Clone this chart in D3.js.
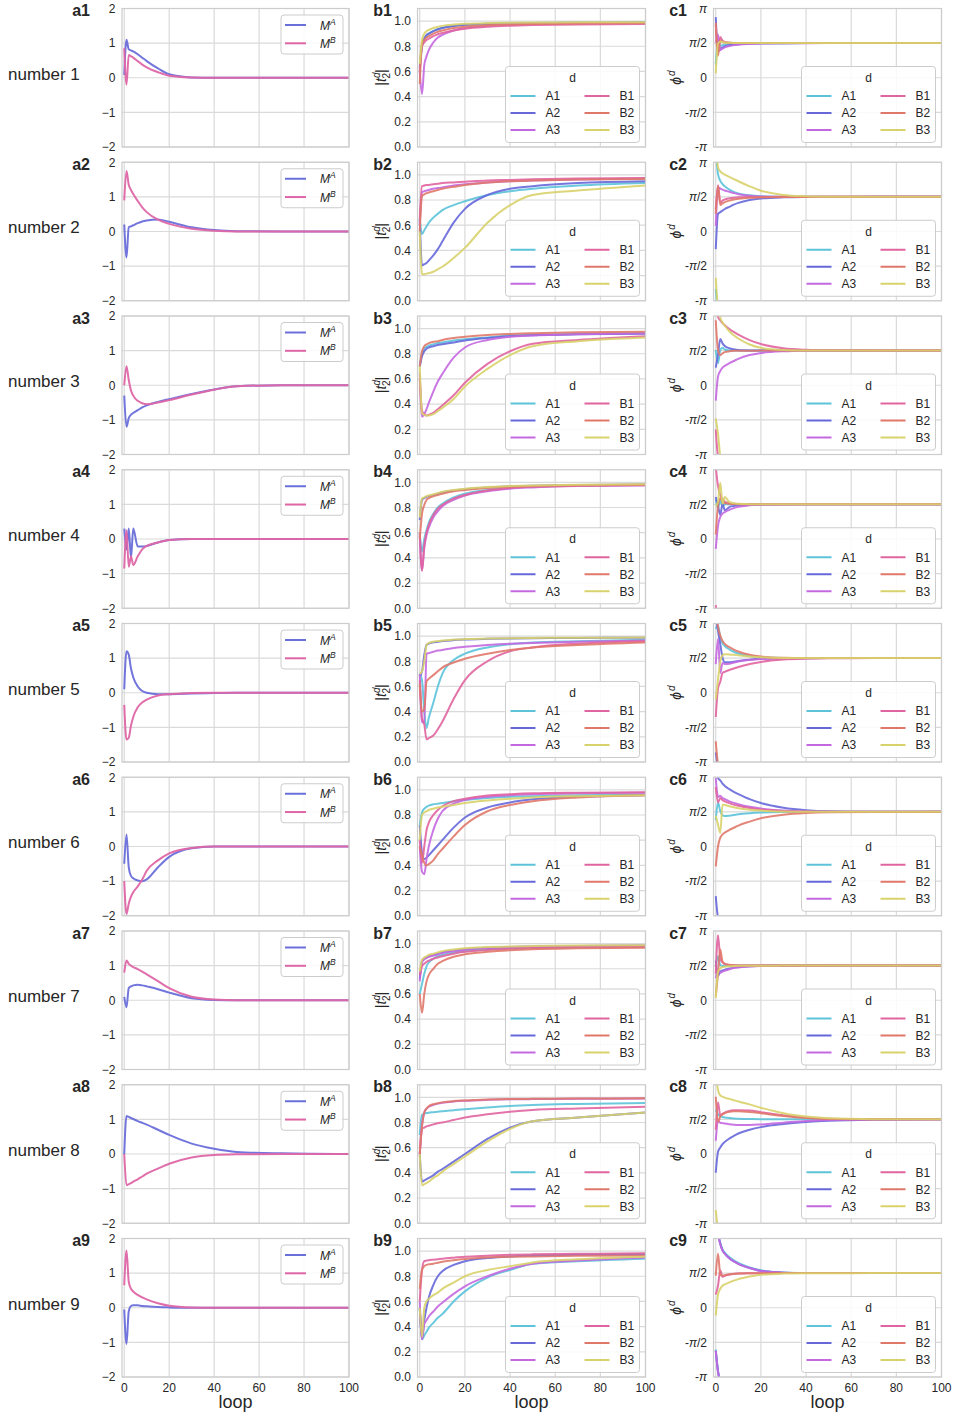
<!DOCTYPE html>
<html><head><meta charset="utf-8">
<script src="https://cdn.jsdelivr.net/npm/d3@7"></script>
<style>
body{margin:0;background:#fff;}
svg text{font-family:"Liberation Sans",Arial,"DejaVu Sans",sans-serif;fill:#262626;}
</style>
</head><body>
<svg id="chart" width="954" height="1418"></svg>
<script>
const PI = Math.PI;
// sample positions (loop index) shared by every series
const loops = [0, 1, 2, 3, 4, 6, 8, 10, 15, 20, 30, 40, 50, 70, 100];

const codes = ["A1", "A2", "A3", "B1", "B2", "B3"];
const codeColors = ["#5cc3d9", "#6668da", "#c468e0", "#e0649f", "#e0786a", "#d8d26a"];
const magNames = ["A", "B"];
const magColors = ["#6a6fda", "#de66a6"];
const rowNames = ["number 1","number 2","number 3","number 4","number 5","number 6","number 7","number 8","number 9"];

const xTicks = [0, 20, 40, 60, 80, 100];
const yTicksMag = [-2, -1, 0, 1, 2];
const yTickMagLabels = ["\u22122", "\u22121", "0", "1", "2"];
const yTicksT = [0, 0.2, 0.4, 0.6, 0.8, 1.0];
const yTickTLabels = ["0.0", "0.2", "0.4", "0.6", "0.8", "1.0"];
const yTicksPhi = [-PI, -PI/2, 0, PI/2, PI];
const yTickPhiLabels = [["-", "\u03c0", ""], ["-", "\u03c0", "/2"], ["0", "", ""], ["", "\u03c0", "/2"], ["", "\u03c0", ""]];

// ---- column a : M^A, M^B ----
const mag1 = { A: [0.08, 1.1, 0.82, 0.79, 0.76, 0.68, 0.58, 0.48, 0.27, 0.1, 0.01, 0, 0, 0, 0],
               B: [0.85, -0.2, 0.66, 0.62, 0.58, 0.48, 0.38, 0.3, 0.16, 0.06, 0.01, 0, 0, 0, 0] };
const mag2 = { A: [0.2, -0.75, 0.12, 0.15, 0.18, 0.24, 0.29, 0.32, 0.35, 0.28, 0.12, 0.04, 0.01, 0, 0],
               B: [0.9, 1.75, 1.35, 1.2, 1.08, 0.88, 0.7, 0.56, 0.34, 0.22, 0.08, 0.02, 0, 0, 0] };
const mag3 = { A: [-0.3, -1.2, -0.95, -0.85, -0.8, -0.72, -0.64, -0.58, -0.48, -0.4, -0.25, -0.12, -0.03, 0, 0],
               B: [0.0, 0.55, 0.15, -0.15, -0.3, -0.45, -0.52, -0.55, -0.5, -0.43, -0.27, -0.13, -0.03, 0, 0] };
const mag4 = { A: [0.3, -0.3, 0.3, -0.55, 0.3, -0.22, -0.22, -0.2, -0.1, -0.03, 0, 0, 0, 0, 0],
               B: [-0.85, 0.25, -0.8, -0.5, -0.75, -0.5, -0.3, -0.2, -0.1, -0.03, 0, 0, 0, 0, 0] };
const mag5 = { A: [0.1, 1.2, 1.1, 0.7, 0.45, 0.18, 0.05, 0.0, -0.04, -0.04, -0.02, -0.01, 0, 0, 0],
               B: [-0.35, -1.35, -1.3, -0.95, -0.7, -0.42, -0.28, -0.2, -0.08, -0.04, -0.01, 0, 0, 0, 0] };
const mag6 = { A: [-0.5, 0.35, -0.6, -0.85, -0.92, -0.98, -1.0, -0.95, -0.6, -0.3, -0.05, 0, 0, 0, 0],
               B: [-1.0, -1.95, -1.65, -1.45, -1.32, -1.15, -0.95, -0.7, -0.4, -0.2, -0.04, 0, 0, 0, 0] };
const mag7 = { A: [0.1, -0.2, 0.35, 0.4, 0.43, 0.45, 0.43, 0.4, 0.32, 0.22, 0.06, 0.01, 0, 0, 0],
               B: [0.8, 1.15, 1.05, 1.0, 0.96, 0.9, 0.83, 0.75, 0.55, 0.35, 0.1, 0.02, 0, 0, 0] };
const mag8 = { A: [0.0, 1.1, 1.07, 1.04, 1.01, 0.95, 0.9, 0.85, 0.7, 0.55, 0.3, 0.15, 0.06, 0.02, 0],
               B: [0.0, -0.9, -0.87, -0.84, -0.8, -0.73, -0.65, -0.57, -0.42, -0.28, -0.1, -0.03, -0.01, 0, 0] };
const mag9 = { A: [-0.05, -1.05, -0.1, 0.05, 0.07, 0.07, 0.05, 0.04, 0.02, 0.01, 0, 0, 0, 0, 0],
               B: [0.65, 1.65, 0.75, 0.55, 0.47, 0.37, 0.3, 0.24, 0.13, 0.06, 0.01, 0, 0, 0, 0] };

// ---- column b : |t2^d| ----
const t2_1 = {
  A1: [0.62, 0.8, 0.86, 0.88, 0.9, 0.92, 0.935, 0.945, 0.96, 0.97, 0.978, 0.982, 0.985, 0.987, 0.988],
  A2: [0.63, 0.81, 0.86, 0.89, 0.9, 0.92, 0.935, 0.945, 0.96, 0.97, 0.978, 0.982, 0.985, 0.987, 0.988],
  A3: [0.6, 0.42, 0.65, 0.72, 0.77, 0.83, 0.87, 0.89, 0.925, 0.945, 0.962, 0.972, 0.977, 0.982, 0.985],
  B1: [0.6, 0.8, 0.83, 0.85, 0.86, 0.88, 0.895, 0.905, 0.925, 0.94, 0.955, 0.963, 0.968, 0.973, 0.976],
  B2: [0.5, 0.82, 0.85, 0.87, 0.88, 0.9, 0.915, 0.925, 0.945, 0.955, 0.967, 0.973, 0.977, 0.981, 0.984],
  B3: [0.66, 0.85, 0.9, 0.92, 0.93, 0.945, 0.955, 0.962, 0.972, 0.978, 0.984, 0.987, 0.989, 0.99, 0.991] };
const t2_2 = {
  A1: [0.65, 0.53, 0.56, 0.59, 0.62, 0.66, 0.69, 0.72, 0.76, 0.79, 0.84, 0.87, 0.89, 0.915, 0.935],
  A2: [0.65, 0.28, 0.29, 0.3, 0.32, 0.36, 0.41, 0.47, 0.62, 0.73, 0.84, 0.89, 0.91, 0.935, 0.95],
  A3: [0.6, 0.86, 0.87, 0.875, 0.88, 0.89, 0.895, 0.9, 0.915, 0.925, 0.94, 0.95, 0.955, 0.963, 0.97],
  B1: [0.65, 0.91, 0.915, 0.92, 0.92, 0.925, 0.93, 0.935, 0.94, 0.945, 0.955, 0.96, 0.965, 0.97, 0.975],
  B2: [0.55, 0.83, 0.845, 0.855, 0.86, 0.87, 0.88, 0.89, 0.905, 0.92, 0.94, 0.95, 0.955, 0.962, 0.967],
  B3: [0.55, 0.21, 0.21, 0.215, 0.22, 0.23, 0.25, 0.27, 0.34, 0.42, 0.62, 0.76, 0.84, 0.875, 0.915] };
const t2_3 = {
  A1: [0.7, 0.8, 0.84, 0.855, 0.865, 0.875, 0.885, 0.89, 0.905, 0.915, 0.93, 0.945, 0.95, 0.958, 0.965],
  A2: [0.7, 0.78, 0.82, 0.84, 0.85, 0.86, 0.87, 0.875, 0.89, 0.905, 0.925, 0.94, 0.948, 0.955, 0.96],
  A3: [0.65, 0.3, 0.32, 0.36, 0.41, 0.5, 0.58, 0.64, 0.77, 0.85, 0.91, 0.935, 0.945, 0.955, 0.962],
  B1: [0.6, 0.35, 0.32, 0.31, 0.315, 0.33, 0.36, 0.39, 0.47, 0.57, 0.72, 0.82, 0.88, 0.91, 0.94],
  B2: [0.7, 0.82, 0.86, 0.875, 0.885, 0.895, 0.9, 0.91, 0.925, 0.935, 0.95, 0.958, 0.963, 0.97, 0.975],
  B3: [0.7, 0.33, 0.315, 0.31, 0.31, 0.32, 0.345, 0.37, 0.44, 0.54, 0.68, 0.79, 0.86, 0.9, 0.93] };
const t2_4 = {
  A1: [0.6, 0.45, 0.55, 0.62, 0.68, 0.75, 0.8, 0.83, 0.88, 0.91, 0.94, 0.958, 0.967, 0.975, 0.98],
  A2: [0.7, 0.86, 0.875, 0.885, 0.89, 0.9, 0.91, 0.92, 0.935, 0.945, 0.96, 0.968, 0.973, 0.978, 0.982],
  A3: [0.58, 0.3, 0.48, 0.58, 0.64, 0.72, 0.77, 0.81, 0.86, 0.895, 0.93, 0.95, 0.96, 0.97, 0.975],
  B1: [0.6, 0.3, 0.5, 0.6, 0.66, 0.74, 0.79, 0.82, 0.87, 0.9, 0.935, 0.955, 0.965, 0.973, 0.978],
  B2: [0.55, 0.75, 0.82, 0.86, 0.875, 0.89, 0.9, 0.91, 0.93, 0.94, 0.955, 0.965, 0.97, 0.976, 0.98],
  B3: [0.72, 0.87, 0.88, 0.89, 0.895, 0.905, 0.915, 0.925, 0.94, 0.95, 0.963, 0.97, 0.975, 0.98, 0.985] };
const t2_5 = {
  A1: [0.7, 0.65, 0.4, 0.27, 0.35, 0.47, 0.6, 0.7, 0.81, 0.86, 0.91, 0.935, 0.95, 0.96, 0.97],
  A2: [0.68, 0.72, 0.85, 0.93, 0.94, 0.95, 0.955, 0.96, 0.968, 0.973, 0.978, 0.981, 0.983, 0.985, 0.987],
  A3: [0.7, 0.32, 0.31, 0.86, 0.865, 0.875, 0.885, 0.89, 0.905, 0.915, 0.93, 0.94, 0.945, 0.955, 0.965],
  B1: [0.65, 0.35, 0.3, 0.18, 0.19, 0.21, 0.26, 0.32, 0.5, 0.65, 0.8, 0.88, 0.91, 0.94, 0.96],
  B2: [0.62, 0.4, 0.42, 0.64, 0.66, 0.69, 0.72, 0.75, 0.79, 0.82, 0.86, 0.89, 0.91, 0.93, 0.95],
  B3: [0.7, 0.72, 0.8, 0.93, 0.945, 0.955, 0.96, 0.965, 0.972, 0.976, 0.98, 0.983, 0.985, 0.987, 0.988] };
const t2_6 = {
  A1: [0.72, 0.82, 0.85, 0.865, 0.875, 0.885, 0.89, 0.895, 0.91, 0.92, 0.935, 0.945, 0.95, 0.957, 0.963],
  A2: [0.72, 0.5, 0.45, 0.46, 0.48, 0.52, 0.56, 0.6, 0.7, 0.78, 0.86, 0.9, 0.925, 0.945, 0.958],
  A3: [0.55, 0.35, 0.33, 0.45, 0.55, 0.68, 0.77, 0.83, 0.89, 0.92, 0.945, 0.958, 0.965, 0.972, 0.977],
  B1: [0.6, 0.42, 0.55, 0.68, 0.74, 0.8, 0.84, 0.87, 0.91, 0.93, 0.955, 0.965, 0.972, 0.977, 0.98],
  B2: [0.55, 0.48, 0.42, 0.4, 0.41, 0.44, 0.49, 0.53, 0.63, 0.72, 0.83, 0.88, 0.91, 0.94, 0.958],
  B3: [0.6, 0.8, 0.82, 0.83, 0.84, 0.85, 0.86, 0.865, 0.88, 0.895, 0.915, 0.93, 0.94, 0.95, 0.958] };
const t2_7 = {
  A1: [0.6, 0.68, 0.76, 0.82, 0.85, 0.88, 0.9, 0.91, 0.93, 0.94, 0.955, 0.963, 0.968, 0.972, 0.975],
  A2: [0.72, 0.86, 0.88, 0.89, 0.9, 0.91, 0.92, 0.93, 0.945, 0.955, 0.967, 0.973, 0.977, 0.981, 0.984],
  A3: [0.7, 0.85, 0.875, 0.885, 0.895, 0.905, 0.915, 0.925, 0.94, 0.952, 0.965, 0.972, 0.976, 0.98, 0.983],
  B1: [0.75, 0.82, 0.84, 0.855, 0.865, 0.88, 0.89, 0.9, 0.92, 0.935, 0.95, 0.96, 0.965, 0.97, 0.973],
  B2: [0.6, 0.45, 0.6, 0.7, 0.75, 0.8, 0.84, 0.86, 0.895, 0.915, 0.935, 0.947, 0.955, 0.962, 0.967],
  B3: [0.78, 0.87, 0.89, 0.9, 0.91, 0.92, 0.93, 0.94, 0.953, 0.963, 0.972, 0.977, 0.98, 0.984, 0.987] };
const t2_8 = {
  A1: [0.7, 0.86, 0.87, 0.875, 0.878, 0.882, 0.886, 0.89, 0.898, 0.906, 0.92, 0.932, 0.94, 0.948, 0.955],
  A2: [0.55, 0.33, 0.34, 0.35, 0.36, 0.38, 0.41, 0.43, 0.49, 0.55, 0.67, 0.76, 0.81, 0.84, 0.88],
  A3: [0.55, 0.78, 0.88, 0.91, 0.925, 0.94, 0.95, 0.957, 0.967, 0.973, 0.98, 0.984, 0.986, 0.988, 0.99],
  B1: [0.55, 0.75, 0.76, 0.77, 0.775, 0.785, 0.795, 0.8, 0.82, 0.84, 0.865, 0.885, 0.9, 0.912, 0.925],
  B2: [0.55, 0.77, 0.88, 0.91, 0.93, 0.945, 0.953, 0.96, 0.97, 0.975, 0.982, 0.986, 0.988, 0.99, 0.992],
  B3: [0.55, 0.3, 0.31, 0.32, 0.33, 0.36, 0.38, 0.41, 0.47, 0.53, 0.65, 0.75, 0.81, 0.84, 0.88] };
const t2_9 = {
  A1: [0.55, 0.3, 0.33, 0.36, 0.39, 0.43, 0.47, 0.5, 0.6, 0.68, 0.79, 0.85, 0.9, 0.92, 0.94],
  A2: [0.55, 0.3, 0.45, 0.55, 0.63, 0.73, 0.8, 0.84, 0.89, 0.92, 0.945, 0.958, 0.965, 0.97, 0.975],
  A3: [0.6, 0.3, 0.42, 0.45, 0.48, 0.52, 0.56, 0.59, 0.66, 0.72, 0.8, 0.86, 0.9, 0.925, 0.95],
  B1: [0.6, 0.85, 0.92, 0.925, 0.928, 0.932, 0.936, 0.94, 0.948, 0.955, 0.963, 0.97, 0.974, 0.978, 0.982],
  B2: [0.7, 0.85, 0.88, 0.89, 0.895, 0.9, 0.908, 0.915, 0.928, 0.938, 0.95, 0.955, 0.958, 0.962, 0.965],
  B3: [0.55, 0.32, 0.55, 0.6, 0.62, 0.65, 0.67, 0.7, 0.75, 0.8, 0.85, 0.88, 0.91, 0.935, 0.955] };

// ---- column c : phi^d (radians, read in [-pi, pi]) ----
const phi1 = {
  A1: [0.6, 1.7, 1.45, 1.48, 1.5, 1.52, 1.54, 1.55, 1.56, 1.565, 1.57, 1.571, 1.571, 1.571, 1.571],
  A2: [2.75, 1.2, 1.32, 1.38, 1.42, 1.47, 1.5, 1.52, 1.55, 1.56, 1.568, 1.571, 1.571, 1.571, 1.571],
  A3: [1.6, 1.95, 1.25, 1.32, 1.38, 1.44, 1.48, 1.5, 1.53, 1.55, 1.565, 1.57, 1.571, 1.571, 1.571],
  B1: [2.4, 1.3, 1.85, 1.68, 1.62, 1.59, 1.58, 1.575, 1.572, 1.571, 1.571, 1.571, 1.571, 1.571, 1.571],
  B2: [2.5, 1.0, 1.7, 1.63, 1.6, 1.585, 1.578, 1.575, 1.572, 1.571, 1.571, 1.571, 1.571, 1.571, 1.571],
  B3: [0.2, 1.55, 1.65, 1.62, 1.6, 1.585, 1.578, 1.575, 1.572, 1.571, 1.571, 1.571, 1.571, 1.571, 1.571] };
const phi2 = {
  A1: [-2.6, 2.6, 2.3, 2.15, 2.05, 1.9, 1.8, 1.73, 1.64, 1.6, 1.575, 1.571, 1.571, 1.571, 1.571],
  A2: [-0.8, 0.8, 0.88, 0.95, 1.02, 1.12, 1.22, 1.3, 1.43, 1.5, 1.55, 1.565, 1.57, 1.571, 1.571],
  A3: [0.25, 2.0, 1.95, 1.9, 1.86, 1.8, 1.74, 1.69, 1.62, 1.59, 1.575, 1.571, 1.571, 1.571, 1.571],
  B1: [1.0, 2.1, 1.3, 1.4, 1.45, 1.5, 1.53, 1.55, 1.565, 1.57, 1.571, 1.571, 1.571, 1.571, 1.571],
  B2: [0.8, 2.05, 1.2, 1.28, 1.33, 1.4, 1.45, 1.48, 1.53, 1.55, 1.565, 1.57, 1.571, 1.571, 1.571],
  B3: [-2.1, 2.9, 2.73, 2.64, 2.58, 2.48, 2.38, 2.28, 2.05, 1.85, 1.66, 1.6, 1.58, 1.571, 1.571] };
const phi3 = {
  A1: [1.6, 1.0, 1.6, 1.7, 1.62, 1.58, 1.575, 1.572, 1.571, 1.571, 1.571, 1.571, 1.571, 1.571, 1.571],
  A2: [0.8, 1.4, 2.1, 1.9, 1.78, 1.68, 1.63, 1.6, 1.58, 1.575, 1.571, 1.571, 1.571, 1.571, 1.571],
  A3: [-0.7, 0.4, 0.65, 0.8, 0.88, 1.0, 1.1, 1.2, 1.37, 1.46, 1.54, 1.565, 1.571, 1.571, 1.571],
  B1: [-2.0, 3.1, 2.95, 2.82, 2.72, 2.55, 2.42, 2.3, 2.05, 1.87, 1.68, 1.61, 1.585, 1.572, 1.571],
  B2: [2.95, 1.6, 1.37, 1.45, 1.5, 1.54, 1.56, 1.565, 1.57, 1.571, 1.571, 1.571, 1.571, 1.571, 1.571],
  B3: [-1.5, -2.2, 3.08, 2.85, 2.7, 2.45, 2.27, 2.12, 1.85, 1.7, 1.6, 1.578, 1.572, 1.571, 1.571] };
const phi4 = {
  A1: [1.8, 1.4, 1.75, 1.5, 1.58, 1.57, 1.571, 1.571, 1.571, 1.571, 1.571, 1.571, 1.571, 1.571, 1.571],
  A2: [1.9, 1.5, 1.1, 1.6, 1.3, 1.45, 1.5, 1.53, 1.56, 1.57, 1.571, 1.571, 1.571, 1.571, 1.571],
  A3: [-0.45, 0.6, 1.0, 1.15, 1.22, 1.32, 1.4, 1.46, 1.53, 1.56, 1.57, 1.571, 1.571, 1.571, 1.571],
  B1: [-3.0, 2.4, 2.0, 1.8, 1.7, 1.62, 1.595, 1.585, 1.575, 1.572, 1.571, 1.571, 1.571, 1.571, 1.571],
  B2: [0.2, 1.5, 1.85, 1.68, 1.63, 1.6, 1.585, 1.578, 1.573, 1.571, 1.571, 1.571, 1.571, 1.571, 1.571],
  B3: [1.5, 1.7, 2.55, 1.6, 1.9, 1.68, 1.62, 1.6, 1.58, 1.572, 1.571, 1.571, 1.571, 1.571, 1.571] };
const phi5 = {
  A1: [2.9, 3.05, 2.5, 2.25, 2.12, 1.97, 1.86, 1.78, 1.67, 1.61, 1.578, 1.572, 1.571, 1.571, 1.571],
  A2: [-2.7, 2.8, 2.2, 1.6, 1.38, 1.38, 1.41, 1.44, 1.5, 1.54, 1.565, 1.57, 1.571, 1.571, 1.571],
  A3: [1.3, 2.45, 0.9, 1.35, 1.3, 1.32, 1.37, 1.42, 1.49, 1.53, 1.56, 1.57, 1.571, 1.571, 1.571],
  B1: [-1.1, 0.2, 0.5, 0.9, 0.95, 1.03, 1.1, 1.17, 1.3, 1.4, 1.51, 1.55, 1.565, 1.571, 1.571],
  B2: [-2.2, 3.0, 2.6, 2.35, 2.22, 2.07, 1.96, 1.87, 1.72, 1.64, 1.585, 1.573, 1.571, 1.571, 1.571],
  B3: [-0.3, 0.6, 1.4, 1.7, 1.75, 1.74, 1.72, 1.7, 1.65, 1.61, 1.578, 1.572, 1.571, 1.571, 1.571] };
const phi6 = {
  A1: [1.2, 2.0, 1.6, 1.42, 1.38, 1.4, 1.43, 1.46, 1.51, 1.54, 1.565, 1.57, 1.571, 1.571, 1.571],
  A2: [-2.25, 3.1, 3.0, 2.85, 2.75, 2.6, 2.48, 2.38, 2.15, 1.97, 1.76, 1.65, 1.6, 1.575, 1.571],
  A3: [3.1, 2.25, 2.3, 2.2, 2.15, 2.05, 1.98, 1.92, 1.8, 1.72, 1.63, 1.59, 1.578, 1.572, 1.571],
  B1: [2.7, 2.0, 2.2, 2.1, 2.05, 1.97, 1.9, 1.85, 1.75, 1.68, 1.61, 1.585, 1.575, 1.571, 1.571],
  B2: [-0.9, 0.0, 0.4, 0.55, 0.63, 0.75, 0.85, 0.95, 1.13, 1.28, 1.44, 1.52, 1.555, 1.568, 1.571],
  B3: [1.4, 1.0, 0.62, 1.9, 1.88, 1.83, 1.78, 1.74, 1.67, 1.63, 1.59, 1.578, 1.573, 1.571, 1.571] };
const phi7 = {
  A1: [1.5, 2.0, 1.6, 1.55, 1.56, 1.565, 1.57, 1.571, 1.571, 1.571, 1.571, 1.571, 1.571, 1.571, 1.571],
  A2: [1.8, 1.1, 1.3, 1.35, 1.39, 1.44, 1.48, 1.51, 1.54, 1.56, 1.568, 1.571, 1.571, 1.571, 1.571],
  A3: [1.0, 1.4, 1.25, 1.3, 1.34, 1.41, 1.46, 1.49, 1.53, 1.55, 1.565, 1.57, 1.571, 1.571, 1.571],
  B1: [1.2, 2.95, 1.9, 1.72, 1.64, 1.6, 1.585, 1.578, 1.573, 1.571, 1.571, 1.571, 1.571, 1.571, 1.571],
  B2: [0.2, 1.2, 2.3, 1.75, 1.66, 1.61, 1.59, 1.58, 1.573, 1.571, 1.571, 1.571, 1.571, 1.571, 1.571],
  B3: [0.1, 1.3, 1.45, 1.5, 1.52, 1.54, 1.55, 1.56, 1.566, 1.569, 1.571, 1.571, 1.571, 1.571, 1.571] };
const phi8 = {
  A1: [2.0, 1.8, 1.72, 1.68, 1.66, 1.63, 1.61, 1.6, 1.585, 1.578, 1.573, 1.571, 1.571, 1.571, 1.571],
  A2: [-0.85, 0.1, 0.3, 0.45, 0.55, 0.7, 0.82, 0.93, 1.1, 1.22, 1.36, 1.45, 1.51, 1.555, 1.571],
  A3: [0.6, 1.5, 1.42, 1.4, 1.38, 1.35, 1.33, 1.32, 1.32, 1.34, 1.42, 1.5, 1.54, 1.565, 1.571],
  B1: [1.1, 2.35, 1.75, 1.82, 1.88, 1.95, 1.98, 1.99, 1.97, 1.9, 1.76, 1.66, 1.6, 1.575, 1.571],
  B2: [2.6, 1.45, 1.7, 1.8, 1.86, 1.92, 1.94, 1.94, 1.91, 1.85, 1.72, 1.63, 1.59, 1.575, 1.571],
  B3: [-2.55, 2.9, 2.65, 2.6, 2.56, 2.5, 2.44, 2.38, 2.25, 2.1, 1.85, 1.7, 1.62, 1.58, 1.571] };
const phi9 = {
  A1: [-1.9, -2.85, 2.95, 2.65, 2.5, 2.3, 2.15, 2.03, 1.83, 1.7, 1.6, 1.578, 1.572, 1.571, 1.571],
  A2: [-1.95, -2.9, 2.9, 2.6, 2.45, 2.25, 2.1, 1.99, 1.8, 1.67, 1.59, 1.575, 1.571, 1.571, 1.571],
  A3: [-1.95, -2.9, 2.88, 2.6, 2.45, 2.25, 2.1, 1.99, 1.8, 1.67, 1.59, 1.575, 1.571, 1.571, 1.571],
  B1: [0.6, 1.0, 1.7, 1.4, 1.45, 1.5, 1.53, 1.55, 1.565, 1.57, 1.571, 1.571, 1.571, 1.571, 1.571],
  B2: [1.45, 2.45, 1.5, 1.45, 1.48, 1.52, 1.545, 1.555, 1.565, 1.57, 1.571, 1.571, 1.571, 1.571, 1.571],
  B3: [-0.35, 0.6, 0.86, 1.0, 1.06, 1.15, 1.23, 1.3, 1.42, 1.5, 1.55, 1.565, 1.57, 1.571, 1.571] };

const magRows = [mag1, mag2, mag3, mag4, mag5, mag6, mag7, mag8, mag9];
const t2Rows = [t2_1, t2_2, t2_3, t2_4, t2_5, t2_6, t2_7, t2_8, t2_9];
const phiRows = [phi1, phi2, phi3, phi4, phi5, phi6, phi7, phi8, phi9];

// ---------------- drawing ----------------
const svg = d3.select("#chart");
const defs = svg.append("defs");
const colX = [[122, 349], [417.5, 645.5], [713.5, 941.5]];
const rowStep = 153.75, panelH = 138.5, firstTop = 8.5;
const gridColor = "#dadada", frameColor = "#cccccc";
const lineW = 2;

function unwrap(v) {
  const u = [v[0]];
  for (let i = 1; i < v.length; i++) {
    let d = v[i] - v[i - 1];
    while (d > PI) d -= 2 * PI;
    while (d < -PI) d += 2 * PI;
    u.push(u[i - 1] + d);
  }
  return u;
}

for (let r = 0; r < 9; r++) {
  const top = firstTop + r * rowStep, bot = top + panelH;
  const isLast = r === 8;

  svg.append("text").attr("x", 8).attr("y", top + 71)
    .style("font-size", "17px").text(rowNames[r]);

  for (let c = 0; c < 3; c++) {
    const [x0, x1] = colX[c];
    const x = d3.scaleLinear().domain([-1, 100]).range([x0, x1]);
    const y = d3.scaleLinear().range([bot, top]);
    let yTicks;
    if (c === 0) { y.domain([-2, 2]); yTicks = yTicksMag; }
    else if (c === 1) { y.domain([0, 1.1]); yTicks = yTicksT; }
    else { y.domain([-PI, PI]); yTicks = yTicksPhi; }

    const g = svg.append("g");
    // grid
    g.selectAll(null).data(xTicks).enter().append("line")
      .attr("x1", d => x(d)).attr("x2", d => x(d)).attr("y1", top).attr("y2", bot)
      .attr("stroke", gridColor).attr("stroke-width", 1.2);
    g.selectAll(null).data(yTicks).enter().append("line")
      .attr("x1", x0).attr("x2", x1).attr("y1", d => y(d)).attr("y2", d => y(d))
      .attr("stroke", gridColor).attr("stroke-width", 1.2);

    // clip
    const cid = `clip-${r}-${c}`;
    defs.append("clipPath").attr("id", cid).append("rect")
      .attr("x", x0).attr("y", top).attr("width", x1 - x0).attr("height", panelH);
    const pg = g.append("g").attr("clip-path", `url(#${cid})`);

    const line = d3.line().x((d, i) => x(loops[i])).y(d => y(d)).curve(d3.curveMonotoneX);

    if (c === 0) {
      const md = magRows[r];
      magNames.forEach((k, i) => {
        pg.append("path").datum(md[k]).attr("d", line).attr("fill", "none")
          .attr("stroke", magColors[i]).attr("stroke-width", lineW).attr("stroke-opacity", 0.95);
      });
    } else if (c === 1) {
      const td = t2Rows[r];
      codes.forEach((k, i) => {
        pg.append("path").datum(td[k]).attr("d", line).attr("fill", "none")
          .attr("stroke", codeColors[i]).attr("stroke-width", lineW).attr("stroke-opacity", 0.9);
      });
    } else {
      const pd = phiRows[r];
      codes.forEach((k, i) => {
        const u = unwrap(pd[k]);
        [-2 * PI, 0, 2 * PI].forEach(off => {
          pg.append("path").datum(u.map(v => v + off)).attr("d", line).attr("fill", "none")
            .attr("stroke", codeColors[i]).attr("stroke-width", lineW).attr("stroke-opacity", 0.9);
        });
      });
    }

    // frame
    g.append("rect").attr("x", x0).attr("y", top).attr("width", x1 - x0).attr("height", panelH)
      .attr("fill", "none").attr("stroke", frameColor).attr("stroke-width", 1.2);

    // y tick labels
    yTicks.forEach((t, i) => {
      const tx = g.append("text").attr("x", x0 - 6.5).attr("y", y(t) + 4.3)
        .attr("text-anchor", "end").style("font-size", "12px");
      if (c === 0) tx.text(yTickMagLabels[i]);
      else if (c === 1) tx.text(yTickTLabels[i]);
      else {
        const [pre, sym, post] = yTickPhiLabels[i];
        if (pre) tx.append("tspan").text(pre);
        if (sym) tx.append("tspan").style("font-style", "italic").text(sym);
        if (post) tx.append("tspan").text(post);
      }
    });

    // x tick labels (bottom row)
    if (isLast) {
      xTicks.forEach(t => {
        g.append("text").attr("x", x(t)).attr("y", bot + 14.5).attr("text-anchor", "middle")
          .style("font-size", "12px").text(t);
      });
      g.append("text").attr("x", (x0 + x1) / 2).attr("y", bot + 31).attr("text-anchor", "middle")
        .style("font-size", "18px").text("loop");
    }

    // panel label
    const letter = ["a", "b", "c"][c];
    const labX = [90, 392, 687][c];
    g.append("text").attr("x", labX).attr("y", top + 7.5).attr("text-anchor", "end")
      .style("font-size", "16px").style("font-weight", "bold").text(letter + (r + 1));

    // y axis label
    if (c === 1) {
      const yl = g.append("text").attr("text-anchor", "middle").style("font-size", "14px")
        .attr("transform", `translate(${386},${top + 69}) rotate(-90)`);
      yl.append("tspan").text("|");
      yl.append("tspan").style("font-style", "italic").text("t");
      yl.append("tspan").attr("dy", -6).style("font-size", "10px").style("font-style", "italic").text("d");
      yl.append("tspan").attr("dx", -6).attr("dy", 10).style("font-size", "10px").text("2");
      yl.append("tspan").attr("dy", -4).text("|");
    } else if (c === 2) {
      const yl = g.append("text").attr("text-anchor", "middle").style("font-size", "14px")
        .attr("transform", `translate(${681},${top + 69}) rotate(-90)`);
      yl.append("tspan").style("font-style", "italic").text("\u03d5");
      yl.append("tspan").attr("dy", -6).attr("dx", 1).style("font-size", "10px").style("font-style", "italic").text("d");
    }

    // legends
    if (c === 0) {
      const lg = g.append("g").attr("transform", `translate(${x0},${top})`);
      lg.append("rect").attr("x", 159).attr("y", 6.5).attr("width", 62).attr("height", 39)
        .attr("rx", 3).attr("fill", "#fff").attr("fill-opacity", 0.85).attr("stroke", frameColor);
      magNames.forEach((k, i) => {
        const ly = 16.5 + i * 18.3;
        lg.append("line").attr("x1", 163).attr("x2", 184).attr("y1", ly).attr("y2", ly)
          .attr("stroke", magColors[i]).attr("stroke-width", lineW);
        const t = lg.append("text").attr("x", 198).attr("y", ly + 4.5).style("font-size", "12px");
        t.append("tspan").style("font-style", "italic").text("M");
        t.append("tspan").attr("dy", -5).style("font-size", "8.5px").style("font-style", "italic").text(k);
      });
    } else {
      const lg = g.append("g").attr("transform", `translate(${x0},${top})`);
      lg.append("rect").attr("x", 88).attr("y", 58).attr("width", 134).attr("height", 76)
        .attr("rx", 3).attr("fill", "#fff").attr("fill-opacity", 0.85).attr("stroke", frameColor);
      lg.append("text").attr("x", 155).attr("y", 73.5).attr("text-anchor", "middle")
        .style("font-size", "12px").text("d");
      codes.forEach((k, i) => {
        const col = Math.floor(i / 3), row = i % 3;
        const ly = 87.5 + row * 17;
        const lx = col === 0 ? 93 : 167;
        lg.append("line").attr("x1", lx).attr("x2", lx + 25).attr("y1", ly).attr("y2", ly)
          .attr("stroke", codeColors[i]).attr("stroke-width", lineW);
        lg.append("text").attr("x", lx + 35).attr("y", ly + 4.3).style("font-size", "12px").text(k);
      });
    }
  }
}
</script>
</body></html>
